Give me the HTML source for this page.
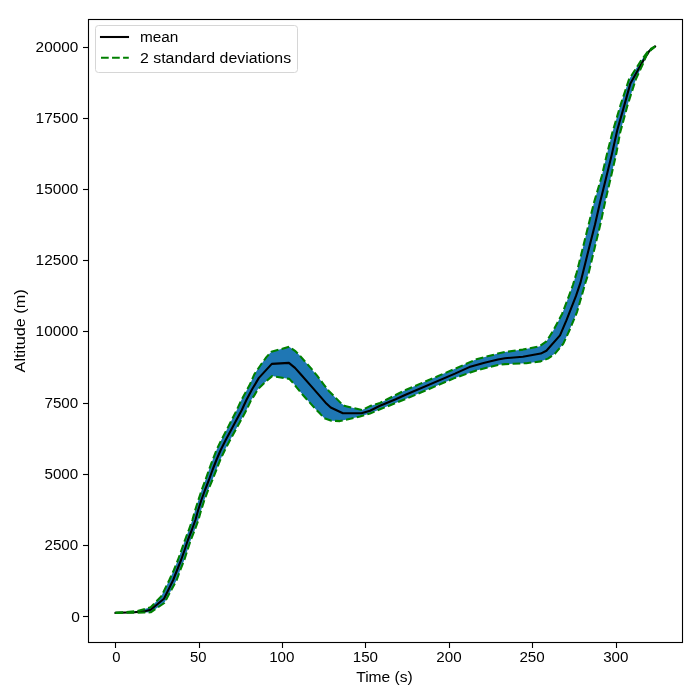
<!DOCTYPE html>
<html><head><meta charset="utf-8"><style>
html,body{margin:0;padding:0;background:#fff;}
svg{display:block;will-change:transform;}
text{font-family:"Liberation Sans", sans-serif;font-size:13.889px;fill:#000;}
</style></head><body>
<svg width="700" height="700" viewBox="0 0 700 700">
<rect x="0" y="0" width="700" height="700" fill="#fff"/>
<defs><clipPath id="ax"><rect x="88.4" y="19.4" width="594.0" height="623.0"/></clipPath></defs>
<g clip-path="url(#ax)">
<path d="M115.5 612.9 L137.1 611.1 L150.7 607.3 L161.4 596.1 L169.3 580.0 L173.9 570.0 L177.9 560.0 L181.5 550.0 L185.0 540.0 L188.8 530.0 L192.4 520.0 L195.2 510.0 L198.4 500.0 L201.7 490.0 L205.4 480.0 L208.9 470.0 L212.6 460.0 L216.5 450.0 L221.3 440.0 L226.6 430.0 L231.7 420.0 L236.8 410.0 L241.4 400.0 L250.0 384.3 L254.3 374.3 L260.7 365.0 L266.4 357.1 L271.4 351.8 L289.3 346.8 L295.7 351.4 L300.0 355.7 L304.3 360.7 L310.7 367.9 L317.1 375.7 L323.6 384.3 L328.6 390.7 L334.3 396.4 L341.4 403.6 L345.0 406.1 L355.7 408.6 L362.1 410.0 L370.0 406.1 L380.0 402.9 L405.0 390.3 L455.0 368.8 L476.4 359.3 L497.9 353.6 L505.0 352.0 L522.9 349.6 L539.3 346.4 L546.4 341.4 L553.6 330.0 L562.1 313.9 L568.6 296.8 L572.9 285.0 L576.7 272.5 L582.8 248.2 L588.6 224.6 L594.0 202.5 L601.8 176.1 L607.1 153.6 L612.3 132.8 L620.9 103.8 L629.0 79.4 L641.2 60.4 L649.4 49.5 L655.0 46.5 L655.0 46.5 L650.7 50.2 L646.6 54.9 L643.9 61.7 L635.8 79.4 L627.6 105.1 L620.1 132.8 L616.3 153.6 L611.4 175.0 L605.0 202.5 L600.3 224.6 L594.6 248.2 L588.8 272.5 L585.7 281.8 L581.4 296.8 L577.1 311.8 L569.6 330.0 L563.2 343.9 L555.0 353.6 L547.9 358.6 L540.7 361.4 L526.4 363.2 L505.0 364.1 L497.9 365.0 L476.4 370.4 L455.0 377.9 L405.0 399.3 L380.0 409.3 L370.0 413.6 L360.0 416.4 L351.4 418.6 L340.0 421.1 L331.4 420.7 L324.3 418.2 L320.0 413.6 L315.7 409.3 L310.0 402.9 L302.9 395.0 L296.4 387.1 L294.3 384.3 L289.3 378.9 L272.1 376.1 L264.3 382.9 L257.9 389.3 L254.3 395.4 L251.2 400.0 L246.5 410.0 L241.1 420.0 L235.6 430.0 L230.1 440.0 L224.9 450.0 L220.2 460.0 L216.3 470.0 L212.4 480.0 L208.2 490.0 L204.4 500.0 L201.2 510.0 L198.4 520.0 L194.8 530.0 L190.8 540.0 L187.5 550.0 L184.3 560.0 L180.3 570.0 L176.7 580.0 L164.3 603.0 L150.7 612.3 L144.3 612.5 L115.5 612.9 Z" fill="#1f77b4" stroke="none"/>
<path d="M115.5 612.9 L134.7 612.3 L145.7 611.1 L150.7 609.7 L164.0 598.7 L173.2 580.0 L177.1 570.0 L181.1 560.0 L184.6 550.0 L187.9 540.0 L191.8 530.0 L195.4 520.0 L198.2 510.0 L201.4 500.0 L205.0 490.0 L208.9 480.0 L212.5 470.0 L216.4 460.0 L220.7 450.0 L225.7 440.0 L231.1 430.0 L236.4 420.0 L241.8 410.0 L246.4 400.0 L252.1 389.3 L258.9 377.9 L271.8 363.9 L288.9 362.9 L295.0 367.9 L300.7 374.3 L311.4 386.4 L322.1 398.6 L326.4 403.6 L330.7 407.5 L342.9 413.2 L361.4 413.2 L370.0 410.7 L380.0 405.7 L395.7 399.3 L405.0 395.0 L455.0 373.6 L469.3 367.1 L483.6 362.9 L497.9 359.6 L505.0 358.2 L522.9 356.8 L540.7 353.6 L546.4 350.7 L560.0 335.4 L566.4 320.4 L576.1 295.7 L580.4 282.9 L583.6 270.0 L589.0 248.2 L595.0 224.6 L600.0 202.5 L606.0 178.2 L611.8 154.6 L617.3 130.0 L623.6 107.9 L630.4 83.4 L642.6 61.7 L649.4 50.9 L655.0 46.5" fill="none" stroke="#000" stroke-width="2.08" stroke-linejoin="round" stroke-linecap="square"/>
<path d="M115.5 612.9 L137.1 611.1 L150.7 607.3 L161.4 596.1 L169.3 580.0 L173.9 570.0 L177.9 560.0 L181.5 550.0 L185.0 540.0 L188.8 530.0 L192.4 520.0 L195.2 510.0 L198.4 500.0 L201.7 490.0 L205.4 480.0 L208.9 470.0 L212.6 460.0 L216.5 450.0 L221.3 440.0 L226.6 430.0 L231.7 420.0 L236.8 410.0 L241.4 400.0 L250.0 384.3 L254.3 374.3 L260.7 365.0 L266.4 357.1 L271.4 351.8 L289.3 346.8 L295.7 351.4 L300.0 355.7 L304.3 360.7 L310.7 367.9 L317.1 375.7 L323.6 384.3 L328.6 390.7 L334.3 396.4 L341.4 403.6 L345.0 406.1 L355.7 408.6 L362.1 410.0 L370.0 406.1 L380.0 402.9 L405.0 390.3 L455.0 368.8 L476.4 359.3 L497.9 353.6 L505.0 352.0 L522.9 349.6 L539.3 346.4 L546.4 341.4 L553.6 330.0 L562.1 313.9 L568.6 296.8 L572.9 285.0 L576.7 272.5 L582.8 248.2 L588.6 224.6 L594.0 202.5 L601.8 176.1 L607.1 153.6 L612.3 132.8 L620.9 103.8 L629.0 79.4 L641.2 60.4 L649.4 49.5 L655.0 46.5" fill="none" stroke="#008000" stroke-width="2.08" stroke-dasharray="7.71 3.33" stroke-linejoin="round"/>
<path d="M115.5 612.9 L144.3 612.5 L150.7 612.3 L164.3 603.0 L176.7 580.0 L180.3 570.0 L184.3 560.0 L187.5 550.0 L190.8 540.0 L194.8 530.0 L198.4 520.0 L201.2 510.0 L204.4 500.0 L208.2 490.0 L212.4 480.0 L216.3 470.0 L220.2 460.0 L224.9 450.0 L230.1 440.0 L235.6 430.0 L241.1 420.0 L246.5 410.0 L251.2 400.0 L254.3 395.4 L257.9 389.3 L264.3 382.9 L272.1 376.1 L289.3 378.9 L294.3 384.3 L296.4 387.1 L302.9 395.0 L310.0 402.9 L315.7 409.3 L320.0 413.6 L324.3 418.2 L331.4 420.7 L340.0 421.1 L351.4 418.6 L360.0 416.4 L370.0 413.6 L380.0 409.3 L405.0 399.3 L455.0 377.9 L476.4 370.4 L497.9 365.0 L505.0 364.1 L526.4 363.2 L540.7 361.4 L547.9 358.6 L555.0 353.6 L563.2 343.9 L569.6 330.0 L577.1 311.8 L581.4 296.8 L585.7 281.8 L588.8 272.5 L594.6 248.2 L600.3 224.6 L605.0 202.5 L611.4 175.0 L616.3 153.6 L620.1 132.8 L627.6 105.1 L635.8 79.4 L643.9 61.7 L646.6 54.9 L650.7 50.2 L655.0 46.5" fill="none" stroke="#008000" stroke-width="2.08" stroke-dasharray="7.71 3.33" stroke-linejoin="round"/>
</g>
<rect x="88.5" y="19.5" width="594" height="623" fill="none" stroke="#000" stroke-width="1.11" stroke-linecap="square"/>
<g stroke="#000" stroke-width="1.11">
<line x1="115.5" y1="643" x2="115.5" y2="648"/>
<line x1="199.5" y1="643" x2="199.5" y2="648"/>
<line x1="282.5" y1="643" x2="282.5" y2="648"/>
<line x1="365.5" y1="643" x2="365.5" y2="648"/>
<line x1="449.5" y1="643" x2="449.5" y2="648"/>
<line x1="532.5" y1="643" x2="532.5" y2="648"/>
<line x1="616.5" y1="643" x2="616.5" y2="648"/>
<line x1="83" y1="616.5" x2="88" y2="616.5"/>
<line x1="83" y1="545.5" x2="88" y2="545.5"/>
<line x1="83" y1="474.5" x2="88" y2="474.5"/>
<line x1="83" y1="403.5" x2="88" y2="403.5"/>
<line x1="83" y1="331.5" x2="88" y2="331.5"/>
<line x1="83" y1="260.5" x2="88" y2="260.5"/>
<line x1="83" y1="189.5" x2="88" y2="189.5"/>
<line x1="83" y1="118.5" x2="88" y2="118.5"/>
<line x1="83" y1="47.5" x2="88" y2="47.5"/>
</g>
<text x="116.50" y="662.1" text-anchor="middle" textLength="8.23" lengthAdjust="spacingAndGlyphs">0</text>
<text x="198.20" y="662.1" text-anchor="middle" textLength="16.47" lengthAdjust="spacingAndGlyphs">50</text>
<text x="281.80" y="662.1" text-anchor="middle" textLength="25.30" lengthAdjust="spacingAndGlyphs">100</text>
<text x="365.40" y="662.1" text-anchor="middle" textLength="25.30" lengthAdjust="spacingAndGlyphs">150</text>
<text x="449.00" y="662.1" text-anchor="middle" textLength="25.30" lengthAdjust="spacingAndGlyphs">200</text>
<text x="532.10" y="662.1" text-anchor="middle" textLength="25.30" lengthAdjust="spacingAndGlyphs">250</text>
<text x="615.80" y="662.1" text-anchor="middle" textLength="25.30" lengthAdjust="spacingAndGlyphs">300</text>
<text x="79.90" y="621.50" text-anchor="end" textLength="8.63" lengthAdjust="spacingAndGlyphs">0</text>
<text x="78.20" y="549.70" text-anchor="end" textLength="33.73" lengthAdjust="spacingAndGlyphs">2500</text>
<text x="78.20" y="478.70" text-anchor="end" textLength="33.73" lengthAdjust="spacingAndGlyphs">5000</text>
<text x="78.20" y="407.70" text-anchor="end" textLength="33.73" lengthAdjust="spacingAndGlyphs">7500</text>
<text x="78.20" y="335.70" text-anchor="end" textLength="42.57" lengthAdjust="spacingAndGlyphs">10000</text>
<text x="78.20" y="264.70" text-anchor="end" textLength="42.57" lengthAdjust="spacingAndGlyphs">12500</text>
<text x="78.20" y="193.70" text-anchor="end" textLength="42.57" lengthAdjust="spacingAndGlyphs">15000</text>
<text x="78.20" y="122.70" text-anchor="end" textLength="42.57" lengthAdjust="spacingAndGlyphs">17500</text>
<text x="78.20" y="51.70" text-anchor="end" textLength="42.57" lengthAdjust="spacingAndGlyphs">20000</text>
<text x="384.50" y="682.2" text-anchor="middle" textLength="56.60" lengthAdjust="spacingAndGlyphs">Time (s)</text>
<text transform="translate(25.0 330.90) rotate(-90)" x="0" y="0" text-anchor="middle" textLength="83.06" lengthAdjust="spacingAndGlyphs">Altitude (m)</text>
<rect x="95.5" y="25.5" width="202" height="47" rx="3" ry="3" fill="#fff" fill-opacity="0.8" stroke="#d6d6d6" stroke-width="1"/>
<line x1="101" y1="37" x2="128" y2="37" stroke="#000" stroke-width="2.08" stroke-linecap="square"/>
<line x1="101" y1="57.8" x2="128.8" y2="57.8" stroke="#008000" stroke-width="2.08" stroke-dasharray="7.71 3.33"/>
<text x="139.9" y="42.1" textLength="38.49" lengthAdjust="spacingAndGlyphs">mean</text>
<text x="140.0" y="62.9" textLength="151.13" lengthAdjust="spacingAndGlyphs">2 standard deviations</text>
</svg>
</body></html>
